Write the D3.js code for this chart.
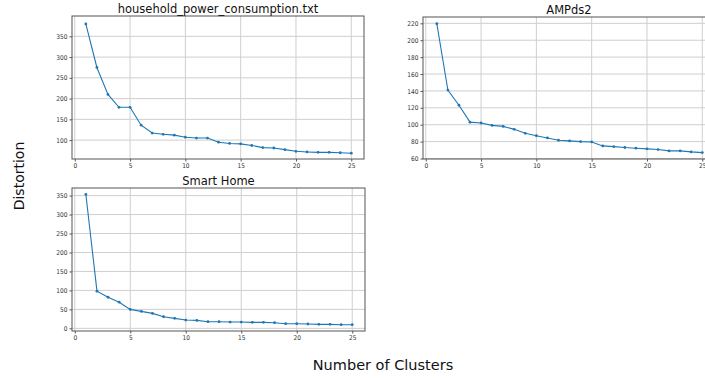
<!DOCTYPE html>
<html><head><meta charset="utf-8">
<script src="https://cdn.jsdelivr.net/npm/d3@7"></script>
<style>
html,body{margin:0;padding:0;background:#fff;}
svg{display:block;}
</style></head>
<body>
<svg id="chart" width="705" height="378"></svg>
<script>
const clusters = d3.range(1, 26);
const householdValues = [380, 275, 210, 179, 179, 136, 117, 114, 112, 107, 105, 105, 95, 92, 91, 87, 82, 81, 77, 73, 71.5, 70.5, 70.5, 69.5, 68.5];
const ampdsValues = [219.5, 141, 123, 103, 102, 99.2, 98, 94.5, 89.8, 87, 84.3, 81.6, 80.8, 80, 79.6, 74.9, 74.1, 73, 72.2, 71.4, 70.6, 69, 69, 67.8, 67];
const smartHomeValues = [353, 98, 82, 69, 50, 44.7, 39.4, 30.6, 26.3, 21.9, 21, 17.5, 17.5, 16.6, 16.6, 15.8, 15.8, 14.9, 12.3, 12.3, 11.4, 10.5, 10.5, 9.6, 9.6];
const xTicks = [0, 5, 10, 15, 20, 25];
const householdTicks = [100, 150, 200, 250, 300, 350];
const ampdsTicks = [60, 80, 100, 120, 140, 160, 180, 200, 220];
const smartHomeTicks = [0, 50, 100, 150, 200, 250, 300, 350];
const titles = ["household_power_consumption.txt", "AMPds2", "Smart Home"];
const xLabel = "Number of Clusters";
const yLabel = "Distortion";

const svg = d3.select("#chart");
const lineColor = "#1f77b4";

function panel(box, values, yDomain, yTicks, title) {
  const g = svg.append("g");
  const x = d3.scaleLinear().domain([-0.25, 26.15]).range([box.l, box.r]);
  const y = d3.scaleLinear().domain(yDomain).range([box.b, box.t]);
  // grid
  g.append("g").selectAll("line.vx").data(xTicks).join("line")
    .attr("x1", d => x(d)).attr("x2", d => x(d)).attr("y1", box.t).attr("y2", box.b)
    .attr("stroke", "#cfcfcf").attr("stroke-width", 1);
  g.append("g").selectAll("line.hy").data(yTicks).join("line")
    .attr("x1", box.l).attr("x2", box.r).attr("y1", d => y(d)).attr("y2", d => y(d))
    .attr("stroke", "#cfcfcf").attr("stroke-width", 1);
  // axes
  const xa = g.append("g").attr("transform", `translate(0,${box.b})`)
    .call(d3.axisBottom(x).tickValues(xTicks).tickSize(2.5).tickPadding(2).tickFormat(d3.format("d")));
  const ya = g.append("g").attr("transform", `translate(${box.l},0)`)
    .call(d3.axisLeft(y).tickValues(yTicks).tickSize(2.5).tickPadding(2).tickFormat(d3.format("d")));
  [xa, ya].forEach(a => {
    a.select(".domain").remove();
    a.selectAll(".tick line").attr("stroke", "#555");
    a.selectAll(".tick text").attr("fill", "#333")
      .style("font-family", "'DejaVu Sans Condensed', 'Liberation Sans Narrow', 'DejaVu Sans', sans-serif")
      .style("font-size", "6.5px");
  });
  // frame
  g.append("rect").attr("x", box.l).attr("y", box.t)
    .attr("width", box.r - box.l).attr("height", box.b - box.t)
    .attr("fill", "none").attr("stroke", "#555").attr("stroke-width", 1);
  // line
  const line = d3.line().x((d, i) => x(clusters[i])).y(d => y(d));
  g.append("path").datum(values).attr("d", line)
    .attr("fill", "none").attr("stroke", lineColor).attr("stroke-width", 1.1);
  g.append("g").selectAll("circle").data(values).join("circle")
    .attr("cx", (d, i) => x(clusters[i])).attr("cy", d => y(d)).attr("r", 1.4)
    .attr("fill", lineColor);
  // title
  svg.append("text").attr("x", (box.l + box.r) / 2).attr("y", box.t - 3.5)
    .attr("text-anchor", "middle")
    .style("font-family", "'DejaVu Sans', sans-serif").style("font-size", "11.5px")
    .attr("fill", "#111").text(title);
}

panel({l: 72, t: 16, r: 364, b: 159}, householdValues, [54.5, 399], householdTicks, titles[0]);
panel({l: 423, t: 17, r: 715, b: 159}, ampdsValues, [59.4, 227.5], ampdsTicks, titles[1]);
panel({l: 72, t: 188, r: 365, b: 331}, smartHomeValues, [-7, 370], smartHomeTicks, titles[2]);

svg.append("text").attr("x", 383).attr("y", 370).attr("text-anchor", "middle")
  .style("font-family", "'DejaVu Sans', sans-serif").style("font-size", "14.5px")
  .attr("fill", "#111").text(xLabel);
svg.append("text").attr("transform", "translate(24,176) rotate(-90)").attr("text-anchor", "middle")
  .style("font-family", "'DejaVu Sans', sans-serif").style("font-size", "14px")
  .attr("fill", "#111").text(yLabel);
</script>
</body></html>
